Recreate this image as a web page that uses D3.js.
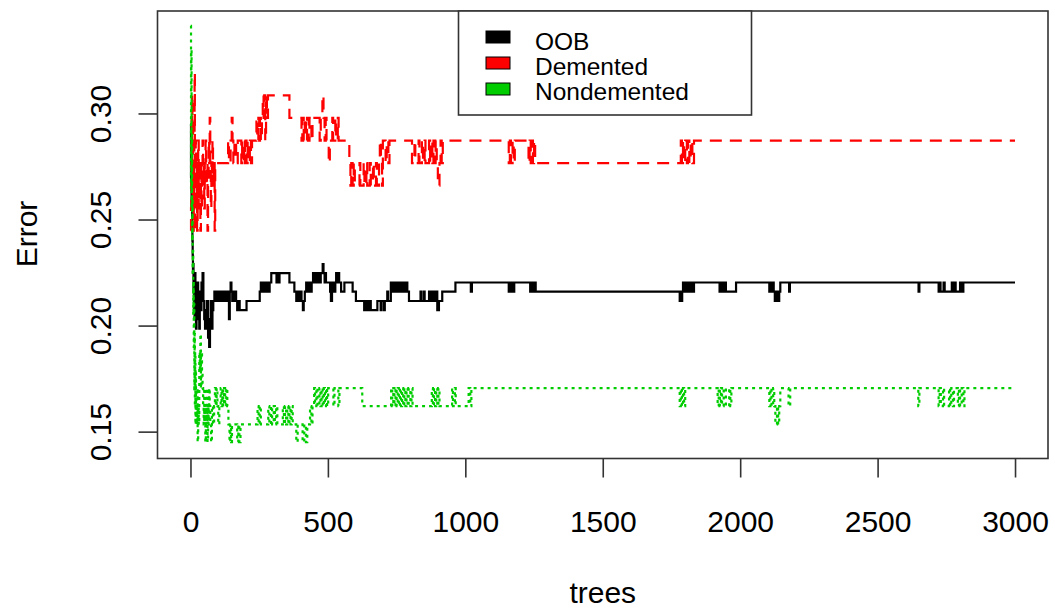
<!DOCTYPE html>
<html><head><meta charset="utf-8">
<script src="https://cdn.jsdelivr.net/npm/d3@7/dist/d3.min.js"></script>
<style>
body{margin:0;background:#fff}
svg{display:block}
text{font-family:"Liberation Sans", Arial, sans-serif;fill:#000}
</style>
</head><body>
<svg id="chart" width="1055" height="609"></svg>
<script>
// ---- data: [tree, error] change points (value holds until the next point) ----
const oobErr = [[1,.2950],[2,.2700],[3,.2680],[4,.2560],[5,.2620],[6,.2480],[7,.2400],[8,.2330],[9,.2250],[10,.2290],[11,.2160],[12,.2203],[13,.2073],[14,.2160],[15,.2030],[16,.2116],[17,.2247],[18,.2073],[19,.2160],[20,.1986],[22,.2116],[24,.2030],[26,.2203],[28,.2073],[30,.2160],[32,.1986],[34,.2116],[36,.2073],[40,.2203],[44,.2247],[47,.2116],[50,.2030],[53,.1986],[56,.2073],[60,.2116],[64,.1943],[68,.1900],[71,.2030],[74,.2116],[77,.1986],[80,.2073],[83,.2116],[87,.2160],[91,.2116],[95,.2160],[99,.2116],[103,.2160],[107,.2116],[111,.2160],[115,.2116],[119,.2160],[123,.2116],[127,.2160],[131,.2116],[135,.2160],[140,.2030],[143,.2160],[146,.2203],[149,.2160],[152,.2116],[155,.2160],[158,.2116],[162,.2160],[166,.2116],[170,.2073],[174,.2116],[179,.2073],[204,.2116],[252,.2160],[256,.2203],[260,.2160],[264,.2203],[268,.2160],[272,.2203],[276,.2160],[280,.2203],[284,.2160],[288,.2203],[294,.2247],[313,.2203],[318,.2247],[321,.2203],[324,.2247],[360,.2203],[378,.2160],[385,.2116],[390,.2160],[394,.2116],[398,.2160],[404,.2116],[409,.2073],[412,.2116],[416,.2160],[421,.2203],[426,.2160],[430,.2203],[436,.2160],[441,.2203],[446,.2247],[452,.2203],[457,.2247],[462,.2203],[466,.2247],[470,.2203],[474,.2247],[481,.2290],[484,.2247],[488,.2203],[491,.2247],[493,.2203],[508,.2160],[511,.2116],[515,.2203],[523,.2160],[527,.2203],[530,.2247],[532,.2203],[539,.2247],[541,.2203],[548,.2160],[560,.2203],[590,.2160],[602,.2116],[632,.2073],[636,.2116],[640,.2073],[644,.2116],[648,.2073],[652,.2116],[656,.2073],[680,.2116],[692,.2073],[695,.2116],[704,.2073],[707,.2116],[716,.2160],[719,.2116],[729,.2203],[733,.2160],[737,.2203],[741,.2160],[745,.2203],[749,.2160],[753,.2203],[757,.2160],[761,.2203],[765,.2160],[769,.2203],[773,.2160],[777,.2203],[781,.2160],[785,.2203],[789,.2160],[795,.2116],[837,.2160],[840,.2116],[849,.2160],[852,.2116],[868,.2160],[872,.2116],[876,.2160],[880,.2116],[884,.2160],[888,.2116],[892,.2160],[898,.2073],[904,.2116],[910,.2116],[916,.2160],[964,.2203],[1020,.2160],[1024,.2203],[1158,.2160],[1162,.2203],[1166,.2160],[1170,.2203],[1174,.2160],[1178,.2203],[1236,.2160],[1240,.2203],[1243,.2160],[1246,.2203],[1249,.2160],[1252,.2203],[1256,.2160],[1780,.2116],[1783,.2160],[1786,.2116],[1789,.2160],[1792,.2203],[1796,.2160],[1800,.2203],[1804,.2160],[1808,.2203],[1812,.2160],[1816,.2203],[1820,.2160],[1824,.2203],[1828,.2160],[1832,.2203],[1925,.2160],[1929,.2203],[1933,.2160],[1937,.2203],[1941,.2160],[1945,.2203],[1948,.2160],[1985,.2203],[2106,.2160],[2110,.2203],[2114,.2160],[2118,.2203],[2122,.2160],[2126,.2116],[2132,.2160],[2136,.2116],[2142,.2160],[2146,.2203],[2178,.2160],[2181,.2203],[2649,.2160],[2652,.2203],[2722,.2160],[2726,.2203],[2729,.2160],[2740,.2203],[2744,.2160],[2770,.2203],[2774,.2160],[2780,.2203],[2784,.2160],[2800,.2203],[2804,.2160],[2812,.2203],[3000,.2203]];

const dementedErr = [[1,.2447],[2,.2553],[3,.2766],[4,.2979],[5,.2660],[6,.3085],[7,.2872],[8,.2553],[9,.2979],[10,.2660],[11,.2447],[12,.2766],[13,.2553],[14,.2872],[15,.3191],[16,.2766],[17,.2447],[18,.2660],[19,.2872],[20,.2553],[22,.2766],[24,.2447],[26,.2660],[28,.2872],[30,.2553],[32,.2766],[34,.2660],[36,.2447],[38,.2766],[40,.2553],[42,.2766],[44,.2872],[46,.2660],[48,.2766],[50,.2553],[52,.2766],[55,.2872],[57,.2660],[60,.2766],[62,.2447],[64,.2660],[66,.2872],[68,.2766],[70,.2979],[72,.2766],[74,.2553],[76,.2766],[78,.2660],[80,.2872],[82,.2766],[84,.2660],[86,.2766],[88,.2447],[90,.2766],[137,.2872],[140,.2766],[146,.2872],[150,.2979],[153,.2872],[156,.2766],[160,.2872],[166,.2766],[172,.2872],[185,.2766],[188,.2872],[192,.2766],[195,.2872],[198,.2766],[201,.2872],[204,.2766],[208,.2872],[212,.2766],[216,.2872],[220,.2766],[224,.2872],[240,.2979],[243,.2872],[247,.2979],[250,.2872],[253,.2979],[256,.2872],[260,.2979],[263,.3085],[266,.2979],[269,.3085],[272,.2872],[275,.3085],[278,.2979],[282,.3085],[360,.2979],[404,.2872],[407,.2979],[412,.2872],[416,.2979],[420,.2872],[424,.2979],[430,.2872],[433,.2979],[440,.2872],[444,.2979],[470,.2872],[474,.2979],[480,.3085],[484,.2979],[488,.2872],[492,.2979],[495,.2872],[503,.2766],[507,.2872],[516,.2979],[519,.2872],[527,.2979],[530,.2872],[536,.2979],[539,.2872],[578,.2766],[582,.2660],[585,.2766],[590,.2660],[594,.2766],[598,.2660],[615,.2766],[618,.2660],[630,.2766],[633,.2660],[640,.2766],[643,.2660],[652,.2766],[656,.2660],[664,.2766],[667,.2660],[675,.2766],[678,.2660],[686,.2766],[689,.2872],[693,.2766],[697,.2660],[700,.2872],[710,.2766],[714,.2872],[720,.2766],[724,.2872],[806,.2766],[815,.2872],[818,.2766],[830,.2872],[833,.2766],[842,.2872],[846,.2766],[852,.2872],[855,.2766],[868,.2872],[872,.2766],[876,.2872],[880,.2766],[884,.2872],[888,.2766],[892,.2872],[896,.2766],[900,.2660],[906,.2766],[910,.2872],[914,.2766],[918,.2872],[1158,.2766],[1162,.2872],[1166,.2766],[1172,.2872],[1176,.2766],[1180,.2872],[1230,.2766],[1234,.2872],[1238,.2766],[1242,.2872],[1246,.2766],[1250,.2872],[1254,.2766],[1784,.2872],[1788,.2766],[1792,.2872],[1796,.2766],[1800,.2872],[1806,.2766],[1810,.2872],[1815,.2766],[1820,.2872],[1826,.2766],[1832,.2872],[3000,.2872]];

const nondementedErr = [[1,.3413],[2,.2650],[3,.3300],[4,.2550],[5,.2900],[6,.2400],[7,.2600],[8,.2250],[9,.2350],[10,.2050],[11,.2200],[12,.1900],[13,.2100],[14,.1700],[15,.1960],[16,.1620],[17,.1875],[18,.1534],[19,.1790],[20,.1620],[22,.1534],[24,.1705],[26,.1451],[28,.1620],[30,.1534],[32,.1875],[34,.1790],[36,.1960],[38,.1705],[40,.1875],[42,.1790],[44,.1705],[46,.1620],[48,.1534],[50,.1705],[52,.1534],[54,.1451],[56,.1620],[58,.1534],[60,.1705],[62,.1451],[64,.1620],[66,.1534],[68,.1705],[70,.1620],[72,.1534],[75,.1451],[78,.1620],[82,.1534],[86,.1620],[89,.1705],[92,.1620],[95,.1705],[98,.1620],[101,.1534],[105,.1620],[110,.1705],[113,.1620],[116,.1705],[119,.1620],[122,.1705],[126,.1620],[130,.1705],[134,.1620],[138,.1534],[142,.1451],[145,.1534],[148,.1451],[151,.1534],[170,.1451],[174,.1534],[178,.1451],[182,.1534],[244,.1620],[248,.1534],[252,.1620],[256,.1534],[283,.1620],[287,.1534],[293,.1620],[297,.1534],[303,.1620],[307,.1534],[312,.1620],[316,.1534],[336,.1620],[340,.1534],[344,.1620],[348,.1534],[352,.1620],[356,.1534],[360,.1620],[364,.1534],[368,.1620],[372,.1534],[385,.1451],[390,.1534],[408,.1451],[414,.1534],[420,.1451],[425,.1534],[435,.1620],[440,.1534],[444,.1620],[450,.1705],[453,.1620],[458,.1705],[462,.1620],[469,.1705],[473,.1620],[477,.1705],[481,.1620],[485,.1705],[489,.1620],[493,.1705],[497,.1620],[501,.1705],[520,.1620],[524,.1705],[538,.1620],[542,.1705],[625,.1620],[730,.1705],[734,.1620],[738,.1705],[742,.1620],[746,.1705],[750,.1620],[754,.1705],[758,.1620],[762,.1705],[766,.1620],[770,.1705],[774,.1620],[778,.1705],[782,.1620],[786,.1705],[790,.1620],[794,.1705],[800,.1620],[804,.1705],[808,.1620],[878,.1705],[882,.1620],[886,.1705],[890,.1620],[894,.1705],[898,.1620],[902,.1705],[906,.1620],[952,.1705],[955,.1620],[962,.1705],[965,.1620],[1012,.1705],[1018,.1620],[1022,.1705],[1780,.1620],[1784,.1705],[1788,.1620],[1792,.1705],[1796,.1620],[1800,.1705],[1918,.1620],[1922,.1705],[1926,.1620],[1930,.1705],[1934,.1620],[1940,.1705],[1948,.1620],[1960,.1705],[1964,.1620],[1968,.1705],[2106,.1620],[2110,.1705],[2114,.1620],[2120,.1705],[2124,.1620],[2128,.1534],[2134,.1620],[2138,.1534],[2142,.1620],[2146,.1705],[2176,.1620],[2182,.1705],[2648,.1620],[2652,.1705],[2722,.1620],[2726,.1705],[2730,.1620],[2738,.1705],[2742,.1620],[2760,.1705],[2764,.1620],[2768,.1705],[2774,.1620],[2778,.1705],[2792,.1620],[2796,.1705],[2800,.1620],[2806,.1705],[2812,.1620],[2816,.1705],[3000,.1705]];

const xTicks = [0,500,1000,1500,2000,2500,3000];
const yTicks = [0.15,0.20,0.25,0.30];
const yTickLabels = ["0.15","0.20","0.25","0.30"];
const seriesNames = ["OOB","Demented","Nondemented"];
const seriesColors = ["#000000","#ff0000","#00cd00"];
const seriesDash = [null,"12,8","3,4"];

// ---- drawing ----
const svg = d3.select("#chart");
const box = {l:157.5, r:1048, t:11, b:458.5};
const x = d3.scaleLinear().domain([-119.96, 3119.96]).range([box.l, box.r]);
const y = d3.scaleLinear().domain([0.13734, 0.3483]).range([box.b, box.t]);

svg.append("defs").append("clipPath").attr("id","clip")
  .append("rect").attr("x",box.l).attr("y",box.t).attr("width",box.r-box.l).attr("height",box.b-box.t);

const line = d3.line().x(d=>x(d[0])).y(d=>y(d[1])).curve(d3.curveStepAfter);
const series = [oobErr, dementedErr, nondementedErr];
const plot = svg.append("g").attr("clip-path","url(#clip)");
series.forEach((pts,i)=>{
  plot.append("path").attr("d", line(pts))
    .attr("fill","none").attr("stroke", seriesColors[i])
    .attr("stroke-width", 2.2)
    .attr("stroke-dasharray", seriesDash[i]);
});

// box
svg.append("rect").attr("x",box.l).attr("y",box.t).attr("width",box.r-box.l).attr("height",box.b-box.t)
  .attr("fill","none").attr("stroke","#333").attr("stroke-width",1.6);

// x axis
const xa = svg.append("g").attr("transform",`translate(0,${box.b})`)
  .call(d3.axisBottom(x).tickValues(xTicks).tickSize(19).tickFormat(d3.format("d")));
xa.select(".domain").remove();
xa.selectAll(".tick line").attr("stroke","#333").attr("stroke-width",1.6);
xa.selectAll(".tick text").attr("y",73).attr("dy",null)
  .style("font-size","30px").style("font-family",'"Liberation Sans", Arial, sans-serif').attr("fill","#000");

// y axis
const ya = svg.append("g").attr("transform",`translate(${box.l},0)`)
  .call(d3.axisLeft(y).tickValues(yTicks).tickSize(19).tickFormat((d,i)=>yTickLabels[i]));
ya.select(".domain").remove();
ya.selectAll(".tick line").attr("stroke","#333").attr("stroke-width",1.6);
ya.selectAll(".tick text").attr("x",null).attr("dy",null)
  .attr("transform","translate(-47,0) rotate(-90)")
  .attr("text-anchor","middle")
  .style("font-size","30px").style("font-family",'"Liberation Sans", Arial, sans-serif').attr("fill","#000");

// axis titles
svg.append("text").attr("x",(x(0)+x(3000))/2).attr("y",603).attr("text-anchor","middle")
  .style("font-size","30px").text("trees");
svg.append("text").attr("transform","translate(37,234) rotate(-90)").attr("text-anchor","middle")
  .style("font-size","30px").text("Error");

// legend
const lg = svg.append("g");
lg.append("rect").attr("x",458.5).attr("y",box.t).attr("width",293).attr("height",104)
  .attr("fill","#fff").attr("stroke","#333").attr("stroke-width",1.6);
seriesNames.forEach((n,i)=>{
  const cy = 37 + i*26;
  lg.append("rect").attr("x",486).attr("y",cy-6).attr("width",24).attr("height",12)
    .attr("fill",seriesColors[i]).attr("stroke","#000").attr("stroke-width",1);
  lg.append("text").attr("x",535).attr("y",49.5 + i*25.2).style("font-size","24.5px").text(n);
});
</script>
</body></html>
